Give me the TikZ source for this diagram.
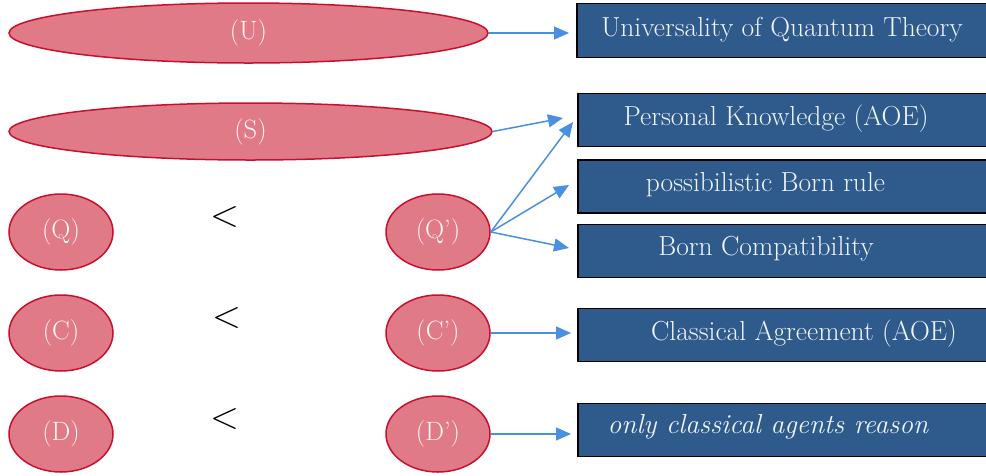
\documentclass[tikz,border=0pt]{standalone}
\usepackage{fontspec}
\usetikzlibrary{arrows.meta,shapes.geometric}
\definecolor{ellfill}{RGB}{224,122,135}
\definecolor{elldraw}{RGB}{200,16,46}
\definecolor{boxfill}{RGB}{46,91,140}
\definecolor{arrblue}{RGB}{74,144,226}
\definecolor{elltext}{RGB}{255,246,247}
\definecolor{boxtext}{RGB}{240,243,247}
\tikzset{
  ell/.style={draw=elldraw, fill=ellfill, line width=1.5pt, ellipse, inner sep=0pt, text=elltext, font=\fontsize{26.5}{30}\selectfont},
  smallell/.style={ell, minimum width=104pt, minimum height=76pt},
  bluebox/.style={draw=black, fill=boxfill, line width=1.5pt, rectangle, inner sep=0pt, minimum height=53pt, minimum width=420pt, anchor=west},
  boxlabel/.style={text=boxtext, font=\fontsize{27.5}{32}\selectfont, inner sep=0pt},
  lessthan/.style={font=\fontsize{38}{44}\selectfont, inner sep=0pt},
  arr/.style={draw=arrblue, line width=1.5pt, -{Triangle[length=15pt, width=13pt]}}
}
\begin{document}
\begin{tikzpicture}[x=1pt, y=-1pt]
\useasboundingbox (0,0) rectangle (986,475);
% ellipses
\node[ell, minimum width=479pt, minimum height=60pt] (U) at (248.5,33) {(U)};
\node[ell, minimum width=483pt, minimum height=57pt] (S) at (250.5,131.5) {(S)};
\node[smallell] (Q) at (61,232) {(Q)};
\node[smallell] (C) at (61,333) {(C)};
\node[smallell] (D) at (61,434) {(D)};
\node[smallell] (Qp) at (438,232) {(Q')};
\node[smallell] (Cp) at (438,333) {(C')};
\node[smallell] (Dp) at (438,434) {(D')};
% less-than signs
\node[lessthan] (l1) at (224.5,217) {<};
\node[lessthan] (l2) at (226.7,318) {<};
\node[lessthan] (l3) at (224.5,419) {<};
% boxes
\node[bluebox, minimum height=54pt] (b1) at (576,30.5) {};
\node[bluebox] (b2) at (577,120) {};
\node[bluebox] (b3) at (577,186.5) {};
\node[bluebox] (b4) at (577,251) {};
\node[bluebox] (b5) at (577,335) {};
\node[bluebox] (b6) at (577,430) {};
\node[boxlabel] (t1) at (782,30) {Universality of Quantum Theory};
\node[boxlabel] (t2) at (776,119) {Personal Knowledge (AOE)};
\node[boxlabel] (t3) at (765.5,185) {possibilistic Born rule};
\node[boxlabel] (t4) at (766,249) {Born Compatibility};
\node[boxlabel] (t5) at (804,334) {Classical Agreement (AOE)};
\node[boxlabel] (t6) at (768,427) {\itshape only classical agents reason};
% arrows
\draw[arr] (U.east) -- ([xshift=-7pt,yshift=-2.5pt]b1.west);
\draw[arr] (S.east) -- ([xshift=-14pt,yshift=2pt]b2.west);
\draw[arr] (Qp.east) -- ([xshift=-4pt,yshift=-2pt]b2.west);
\draw[arr] (Qp.east) -- ([xshift=-8pt,yshift=1.5pt]b3.west);
\draw[arr] (Qp.east) -- ([xshift=-8pt,yshift=3pt]b4.west);
\draw[arr] (Cp.east) -- ([xshift=-6pt,yshift=2pt]b5.west);
\draw[arr] (Dp.east) -- ([xshift=-6pt,yshift=-4pt]b6.west);
\end{tikzpicture}
\end{document}
